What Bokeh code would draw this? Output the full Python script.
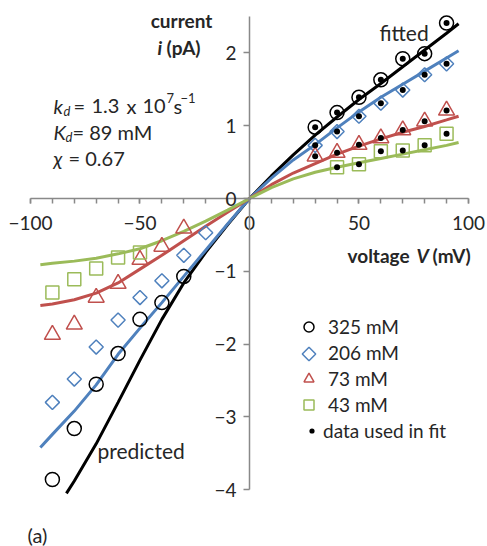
import numpy as np
from bokeh.plotting import figure
from bokeh.models import Range1d, LinearAxis, FixedTicker, Label, Legend, LegendItem
from bokeh.embed import file_html
from bokeh.resources import INLINE

W, H = 487, 546

# ---------------- data ----------------
series_names = ["325 mM", "206 mM", "73 mM", "43 mM"]

v_neg_325 = [-90, -80, -70, -60, -50, -40, -30]
i_neg_325 = [-3.86, -3.16, -2.55, -2.13, -1.66, -1.43, -1.07]
v_pos_325 = [30, 40, 50, 60, 70, 80, 90]
i_pos_325 = [0.98, 1.18, 1.39, 1.63, 1.92, 1.99, 2.41]

v_neg_206 = [-90, -80, -70, -60, -50, -40, -30, -20]
i_neg_206 = [-2.80, -2.48, -2.04, -1.67, -1.36, -1.13, -0.78, -0.47]
v_pos_206 = [30, 40, 50, 60, 70, 80, 90]
i_pos_206 = [0.73, 0.92, 1.13, 1.31, 1.49, 1.70, 1.85]

v_neg_73 = [-90, -80, -70, -60, -50, -40, -30]
i_neg_73 = [-1.87, -1.73, -1.36, -1.17, -0.84, -0.66, -0.41]
v_pos_73 = [30, 40, 50, 60, 70, 80, 90]
i_pos_73 = [0.58, 0.63, 0.74, 0.83, 0.94, 1.06, 1.21]

v_neg_43 = [-90, -80, -70, -60, -50]
i_neg_43 = [-1.29, -1.11, -0.96, -0.81, -0.74]
v_pos_43 = [40, 50, 60, 70, 80, 90]
i_pos_43 = [0.43, 0.47, 0.65, 0.66, 0.73, 0.89]

# model curves (predicted for V<0, fitted for V>0)
v_curve_325 = [-83.6, -80, -70, -60, -50, -40, -30, -20, -10, 0, 10, 20, 30, 40, 50, 60, 70, 80, 90, 95.5]
i_curve_325 = [-4.05, -3.88, -3.37, -2.80, -2.22, -1.66, -1.16, -0.74, -0.36, 0, 0.31, 0.60, 0.87, 1.12, 1.36, 1.58, 1.81, 2.04, 2.27, 2.40]

v_curve = [-95.5, -90, -80, -70, -60, -50, -40, -30, -20, -10, 0, 10, 20, 30, 40, 50, 60, 70, 80, 90, 95.5]
i_curve_206 = [-3.42, -3.24, -2.92, -2.56, -2.14, -1.78, -1.43, -1.07, -0.71, -0.35, 0, 0.28, 0.53, 0.74, 0.97, 1.19, 1.39, 1.57, 1.75, 1.93, 2.03]
i_curve_73 = [-1.47, -1.45, -1.39, -1.30, -1.16, -0.97, -0.78, -0.58, -0.38, -0.19, 0, 0.19, 0.35, 0.48, 0.61, 0.72, 0.82, 0.91, 0.99, 1.08, 1.13]
i_curve_43 = [-0.91, -0.89, -0.86, -0.82, -0.76, -0.69, -0.58, -0.45, -0.31, -0.16, 0, 0.15, 0.27, 0.36, 0.43, 0.49, 0.55, 0.61, 0.67, 0.73, 0.77]

x_ticks = [-100, -50, 0, 50, 100]
x_minor = list(range(-100, 101, 10))
y_ticks = [-4, -3, -2, -1, 0, 1, 2]

# ---------------- styles ----------------
BLACK = "#000000"
BLUE = "#4F81BD"
RED = "#C0504D"
GREEN = "#9BBB59"
AXIS = "#898989"
TXT = "#262626"
FONT = "Lato"

X0, X1 = -113.7, 108.7
Y0, Y1 = -4.78, 2.72

p = figure(width=W, height=H, x_range=Range1d(X0, X1), y_range=Range1d(Y0, Y1),
           output_backend="svg", toolbar_location=None, x_axis_type=None, y_axis_type=None,
           min_border=0, outline_line_color=None)
p.min_border_left = p.min_border_right = p.min_border_top = p.min_border_bottom = 0
p.background_fill_color = "white"
p.border_fill_color = "white"


def px2x(px):
    return X0 + px / W * (X1 - X0)


def py2y(py):
    return Y1 - py / H * (Y1 - Y0)


def minus(v):
    return ("\u2212" + str(abs(v))) if v < 0 else str(v)


xaxis = LinearAxis(fixed_location=0, bounds=(-100, 100),
                   ticker=FixedTicker(ticks=x_ticks, minor_ticks=x_minor))
xaxis.major_label_overrides = {t: minus(t) for t in x_ticks}
yaxis = LinearAxis(fixed_location=0, bounds=(-4, 2.5), ticker=FixedTicker(ticks=y_ticks))
yaxis.major_label_overrides = {t: minus(t) for t in y_ticks}
for ax in (xaxis, yaxis):
    ax.axis_line_color = AXIS
    ax.axis_line_width = 1.5
    ax.major_tick_line_color = AXIS
    ax.major_tick_line_width = 1.5
    ax.minor_tick_line_color = AXIS
    ax.minor_tick_line_width = 1.5
    ax.major_tick_in = 0
    ax.minor_tick_in = 0
    ax.major_label_text_font = FONT
    ax.major_label_text_font_size = "19px"
    ax.major_label_text_color = TXT
xaxis.major_tick_out = 5
xaxis.minor_tick_out = 5
xaxis.major_label_standoff = 12
yaxis.major_tick_out = 6
yaxis.minor_tick_out = 0
yaxis.major_label_standoff = 7
p.add_layout(xaxis, "below")
p.add_layout(yaxis, "left")

# curves
p.line(v_curve_325, i_curve_325, line_color=BLACK, line_width=3)
p.line(v_curve, i_curve_206, line_color=BLUE, line_width=3)
p.line(v_curve, i_curve_73, line_color=RED, line_width=3)
p.line(v_curve, i_curve_43, line_color=GREEN, line_width=3)

# open markers (all data)
r325 = p.scatter(v_neg_325 + v_pos_325, i_neg_325 + i_pos_325, marker="circle", size=14,
                 fill_color=None, line_color=BLACK, line_width=1.5)
r206 = p.scatter(v_neg_206 + v_pos_206, i_neg_206 + i_pos_206, marker="square", angle=np.pi / 4,
                 size=10, fill_color=None, line_color=BLUE, line_width=1.5)
r73 = p.scatter(v_neg_73 + v_pos_73, i_neg_73 + i_pos_73, marker="triangle", size=16,
                fill_color=None, line_color=RED, line_width=1.5)
r43 = p.scatter(v_neg_43 + v_pos_43, i_neg_43 + i_pos_43, marker="square", size=13,
                fill_color=None, line_color=GREEN, line_width=1.5)

# dots: data used in fit
fit_v = v_pos_325 + v_pos_206 + v_pos_73 + v_pos_43
fit_i = i_pos_325 + i_pos_206 + i_pos_73 + i_pos_43
rdot = p.scatter(fit_v, fit_i, marker="circle", size=6, fill_color=BLACK, line_color=None)

# legend: the diamond entry (legend glyphs are never rotated, so its symbol is drawn separately)
r206_leg = p.scatter(x=[], y=[], marker="square", fill_alpha=0, line_alpha=0)
LEG_X, LEG_B, GLYPH = 296, 129, 25
leg1 = Legend(items=[LegendItem(label=n, renderers=[r]) for n, r in zip(series_names, [r325, r206_leg, r73, r43])],
              location=(LEG_X, LEG_B), glyph_width=GLYPH, glyph_height=GLYPH, spacing=1, padding=0, margin=0,
              label_standoff=7, label_text_font=FONT, label_text_font_size="19px",
              label_text_color=TXT, border_line_color=None, background_fill_alpha=0)
leg2 = Legend(items=[LegendItem(label="data used in fit", renderers=[rdot])],
              location=(305, 104), glyph_width=13, glyph_height=13, padding=0, margin=0,
              label_standoff=5, label_text_font=FONT, label_text_font_size="19px",
              label_text_color=TXT, border_line_color=None, background_fill_alpha=0)
p.add_layout(leg1)
p.add_layout(leg2)
leg_top = H - LEG_B - (4 * GLYPH + 3)
p.scatter([px2x(LEG_X + GLYPH / 2)], [py2y(leg_top + GLYPH + 1 + GLYPH / 2 + 1)], marker="square",
          angle=np.pi / 4, size=9.5, fill_color=None, line_color=BLUE, line_width=1.5)


def text(t, x, y, size="19px", style="normal", align="left", baseline="alphabetic"):
    p.add_layout(Label(x=x, y=H - y, x_units="screen", y_units="screen", text=t,
                       text_font=FONT, text_font_size=size, text_font_style=style,
                       text_align=align, text_baseline=baseline, text_color=TXT))


# axis titles
text("current", 181, 20, style="bold", align="center")
text("i", 157, 47, style="bold italic")
text("(pA)", 166, 47, style="bold")
text("voltage", 347, 255, style="bold")
text("V", 416, 255, style="bold italic")
text("(mV)", 432, 255, style="bold")

# curve names
text("fitted", 379, 32, size="21px")
text("predicted", 97, 450, size="21px")

# parameters
text("k", 53, 105, size="20px", style="italic")
text("d", 63, 110, size="13px", style="italic")
text("=", 73, 105, size="20px")
text("1.3", 91, 105, size="20px")
text("x", 126, 105, size="20px")
text("10", 142, 105, size="20px")
text("7", 166, 97, size="13px")
text("s", 173, 105, size="20px")
text("\u22121", 180, 97, size="13px")
text("K", 53, 131, size="20px", style="italic")
text("d", 65, 136, size="13px", style="italic")
text("= 89 mM", 72, 131, size="20px")
text("\u03c7", 53, 157, size="20px", style="italic")
text("= 0.67", 68, 157, size="20px")

text("(a)", 27, 534, size="20px", baseline="middle")

open("out.html", "w").write(file_html(p, INLINE))
